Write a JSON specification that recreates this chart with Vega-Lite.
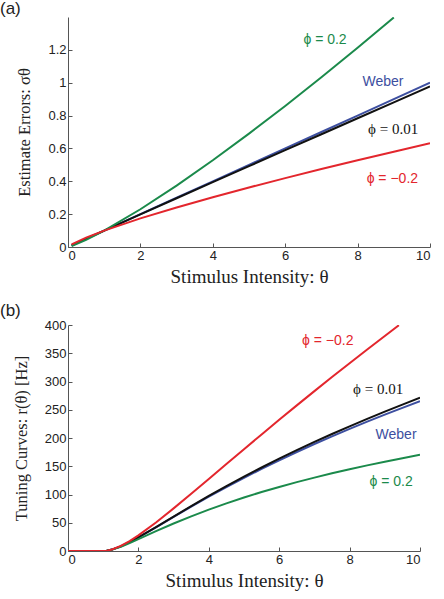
{
  "$schema": "https://vega.github.io/schema/vega-lite/v6.json",
  "background": "white",
  "padding": {"left": 0, "top": 0, "right": 5, "bottom": 5},
  "spacing": 16,
  "config": {
    "view": {"stroke": null},
    "axis": {
      "grid": false,
      "domainColor": "#555555",
      "tickColor": "#555555",
      "tickSize": -4,
      "labelFont": "Liberation Sans",
      "labelFontSize": 13,
      "labelColor": "#222222",
      "labelOverlap": false,
      "titleFont": "Liberation Serif",
      "titleFontWeight": "normal",
      "titleColor": "#222222"
    },
    "axisX": {"titleFontSize": 19},
    "axisY": {"titleFontSize": 16.5},
    "title": {"font": "Liberation Sans", "fontSize": 17, "fontWeight": "normal", "color": "#222222", "anchor": "start", "frame": "group"}
  },
  "datasets": {
    "errors": [
      {"theta": 0.1, "sigma": 0.01, "curve": "Weber"},
      {"theta": 0.5, "sigma": 0.05, "curve": "Weber"},
      {"theta": 1, "sigma": 0.1, "curve": "Weber"},
      {"theta": 2, "sigma": 0.2, "curve": "Weber"},
      {"theta": 3, "sigma": 0.3, "curve": "Weber"},
      {"theta": 4, "sigma": 0.4, "curve": "Weber"},
      {"theta": 5, "sigma": 0.5, "curve": "Weber"},
      {"theta": 6, "sigma": 0.6, "curve": "Weber"},
      {"theta": 7, "sigma": 0.7, "curve": "Weber"},
      {"theta": 8, "sigma": 0.8, "curve": "Weber"},
      {"theta": 9, "sigma": 0.9, "curve": "Weber"},
      {"theta": 10, "sigma": 1.0, "curve": "Weber"},
      {"theta": 0.1, "sigma": 0.0102, "curve": "p001"},
      {"theta": 0.5, "sigma": 0.0503, "curve": "p001"},
      {"theta": 1, "sigma": 0.1, "curve": "p001"},
      {"theta": 2, "sigma": 0.1986, "curve": "p001"},
      {"theta": 3, "sigma": 0.2967, "curve": "p001"},
      {"theta": 4, "sigma": 0.3945, "curve": "p001"},
      {"theta": 5, "sigma": 0.492, "curve": "p001"},
      {"theta": 6, "sigma": 0.5893, "curve": "p001"},
      {"theta": 7, "sigma": 0.6865, "curve": "p001"},
      {"theta": 8, "sigma": 0.7835, "curve": "p001"},
      {"theta": 9, "sigma": 0.8804, "curve": "p001"},
      {"theta": 10, "sigma": 0.9772, "curve": "p001"},
      {"theta": 0.1, "sigma": 0.0063, "curve": "p02"},
      {"theta": 0.5, "sigma": 0.0435, "curve": "p02"},
      {"theta": 1, "sigma": 0.1, "curve": "p02"},
      {"theta": 2, "sigma": 0.2297, "curve": "p02"},
      {"theta": 3, "sigma": 0.3737, "curve": "p02"},
      {"theta": 4, "sigma": 0.5278, "curve": "p02"},
      {"theta": 5, "sigma": 0.6898, "curve": "p02"},
      {"theta": 6, "sigma": 0.8586, "curve": "p02"},
      {"theta": 7, "sigma": 1.033, "curve": "p02"},
      {"theta": 8, "sigma": 1.213, "curve": "p02"},
      {"theta": 9, "sigma": 1.397, "curve": "p02"},
      {"theta": 0.1, "sigma": 0.0159, "curve": "pm02"},
      {"theta": 0.5, "sigma": 0.0574, "curve": "pm02"},
      {"theta": 1, "sigma": 0.1, "curve": "pm02"},
      {"theta": 2, "sigma": 0.1741, "curve": "pm02"},
      {"theta": 3, "sigma": 0.2408, "curve": "pm02"},
      {"theta": 4, "sigma": 0.3031, "curve": "pm02"},
      {"theta": 5, "sigma": 0.3624, "curve": "pm02"},
      {"theta": 6, "sigma": 0.4193, "curve": "pm02"},
      {"theta": 7, "sigma": 0.4743, "curve": "pm02"},
      {"theta": 8, "sigma": 0.5278, "curve": "pm02"},
      {"theta": 9, "sigma": 0.58, "curve": "pm02"},
      {"theta": 10, "sigma": 0.631, "curve": "pm02"}
    ],
    "tuning": [
      {"theta": 0, "rate": 0, "curve": "Weber"},
      {"theta": 1, "rate": 0, "curve": "Weber"},
      {"theta": 1.1, "rate": 0.45, "curve": "Weber"},
      {"theta": 1.25, "rate": 2.49, "curve": "Weber"},
      {"theta": 1.5, "rate": 8.22, "curve": "Weber"},
      {"theta": 1.75, "rate": 15.66, "curve": "Weber"},
      {"theta": 2, "rate": 24.02, "curve": "Weber"},
      {"theta": 2.5, "rate": 41.98, "curve": "Weber"},
      {"theta": 3, "rate": 60.35, "curve": "Weber"},
      {"theta": 3.5, "rate": 78.47, "curve": "Weber"},
      {"theta": 4, "rate": 96.09, "curve": "Weber"},
      {"theta": 4.5, "rate": 113.11, "curve": "Weber"},
      {"theta": 5, "rate": 129.51, "curve": "Weber"},
      {"theta": 5.5, "rate": 145.31, "curve": "Weber"},
      {"theta": 6, "rate": 160.52, "curve": "Weber"},
      {"theta": 6.5, "rate": 175.18, "curve": "Weber"},
      {"theta": 7, "rate": 189.33, "curve": "Weber"},
      {"theta": 7.5, "rate": 202.99, "curve": "Weber"},
      {"theta": 8, "rate": 216.2, "curve": "Weber"},
      {"theta": 8.5, "rate": 229.0, "curve": "Weber"},
      {"theta": 9, "rate": 241.39, "curve": "Weber"},
      {"theta": 9.5, "rate": 253.42, "curve": "Weber"},
      {"theta": 10, "rate": 265.1, "curve": "Weber"},
      {"theta": 0, "rate": 0, "curve": "p001"},
      {"theta": 1, "rate": 0, "curve": "p001"},
      {"theta": 1.1, "rate": 0.46, "curve": "p001"},
      {"theta": 1.25, "rate": 2.5, "curve": "p001"},
      {"theta": 1.5, "rate": 8.25, "curve": "p001"},
      {"theta": 1.75, "rate": 15.75, "curve": "p001"},
      {"theta": 2, "rate": 24.19, "curve": "p001"},
      {"theta": 2.5, "rate": 42.36, "curve": "p001"},
      {"theta": 3, "rate": 61.01, "curve": "p001"},
      {"theta": 3.5, "rate": 79.45, "curve": "p001"},
      {"theta": 4, "rate": 97.42, "curve": "p001"},
      {"theta": 4.5, "rate": 114.81, "curve": "p001"},
      {"theta": 5, "rate": 131.6, "curve": "p001"},
      {"theta": 5.5, "rate": 147.79, "curve": "p001"},
      {"theta": 6, "rate": 163.4, "curve": "p001"},
      {"theta": 6.5, "rate": 178.46, "curve": "p001"},
      {"theta": 7, "rate": 193.02, "curve": "p001"},
      {"theta": 7.5, "rate": 207.08, "curve": "p001"},
      {"theta": 8, "rate": 220.7, "curve": "p001"},
      {"theta": 8.5, "rate": 233.91, "curve": "p001"},
      {"theta": 9, "rate": 246.7, "curve": "p001"},
      {"theta": 9.5, "rate": 259.13, "curve": "p001"},
      {"theta": 10, "rate": 271.21, "curve": "p001"},
      {"theta": 0, "rate": 0, "curve": "p02"},
      {"theta": 1, "rate": 0, "curve": "p02"},
      {"theta": 1.1, "rate": 0.45, "curve": "p02"},
      {"theta": 1.25, "rate": 2.38, "curve": "p02"},
      {"theta": 1.5, "rate": 7.58, "curve": "p02"},
      {"theta": 1.75, "rate": 14.01, "curve": "p02"},
      {"theta": 2, "rate": 20.95, "curve": "p02"},
      {"theta": 2.5, "rate": 35.05, "curve": "p02"},
      {"theta": 3, "rate": 48.64, "curve": "p02"},
      {"theta": 3.5, "rate": 61.4, "curve": "p02"},
      {"theta": 4, "rate": 73.29, "curve": "p02"},
      {"theta": 4.5, "rate": 84.36, "curve": "p02"},
      {"theta": 5, "rate": 94.68, "curve": "p02"},
      {"theta": 5.5, "rate": 104.34, "curve": "p02"},
      {"theta": 6, "rate": 113.38, "curve": "p02"},
      {"theta": 6.5, "rate": 121.89, "curve": "p02"},
      {"theta": 7, "rate": 129.92, "curve": "p02"},
      {"theta": 7.5, "rate": 137.51, "curve": "p02"},
      {"theta": 8, "rate": 144.71, "curve": "p02"},
      {"theta": 8.5, "rate": 151.55, "curve": "p02"},
      {"theta": 9, "rate": 158.07, "curve": "p02"},
      {"theta": 9.5, "rate": 164.29, "curve": "p02"},
      {"theta": 10, "rate": 170.24, "curve": "p02"},
      {"theta": 0, "rate": 0, "curve": "pm02"},
      {"theta": 1, "rate": 0, "curve": "pm02"},
      {"theta": 1.1, "rate": 0.46, "curve": "pm02"},
      {"theta": 1.25, "rate": 2.6, "curve": "pm02"},
      {"theta": 1.5, "rate": 8.92, "curve": "pm02"},
      {"theta": 1.75, "rate": 17.53, "curve": "pm02"},
      {"theta": 2, "rate": 27.64, "curve": "pm02"},
      {"theta": 2.5, "rate": 50.56, "curve": "pm02"},
      {"theta": 3, "rate": 75.48, "curve": "pm02"},
      {"theta": 3.5, "rate": 101.34, "curve": "pm02"},
      {"theta": 4, "rate": 127.61, "curve": "pm02"},
      {"theta": 4.5, "rate": 153.97, "curve": "pm02"},
      {"theta": 5, "rate": 180.24, "curve": "pm02"},
      {"theta": 5.5, "rate": 206.36, "curve": "pm02"},
      {"theta": 6, "rate": 232.17, "curve": "pm02"},
      {"theta": 6.5, "rate": 257.71, "curve": "pm02"},
      {"theta": 7, "rate": 282.95, "curve": "pm02"},
      {"theta": 7.5, "rate": 307.86, "curve": "pm02"},
      {"theta": 8, "rate": 332.45, "curve": "pm02"},
      {"theta": 8.5, "rate": 356.71, "curve": "pm02"},
      {"theta": 9, "rate": 380.67, "curve": "pm02"},
      {"theta": 9.4, "rate": 399.6, "curve": "pm02"}
    ],
    "labelsA": [
      {"theta": 7.1, "value": 1.263, "text": "ϕ = 0.2", "curve": "p02", "serif": false},
      {"theta": 8.7, "value": 1.007, "text": "Weber", "curve": "Weber", "serif": false},
      {"theta": 8.98, "value": 0.72, "text": "ϕ = 0.01", "curve": "p001", "serif": true},
      {"theta": 8.96, "value": 0.416, "text": "ϕ = −0.2", "curve": "pm02", "serif": false}
    ],
    "labelsB": [
      {"theta": 7.38, "value": 372, "text": "ϕ = −0.2", "curve": "pm02", "serif": false},
      {"theta": 8.81, "value": 286, "text": "ϕ = 0.01", "curve": "p001", "serif": true},
      {"theta": 9.32, "value": 205, "text": "Weber", "curve": "Weber", "serif": false},
      {"theta": 9.18, "value": 122, "text": "ϕ = 0.2", "curve": "p02", "serif": false}
    ]
  },
  "vconcat": [
    {
      "title": {"text": "(a)", "dx": -68, "offset": -1},
      "width": 362,
      "height": 230,
      "encoding": {
        "x": {"field": "theta", "type": "quantitative", "scale": {"domain": [0, 10], "nice": false}, "axis": {"values": [0, 2, 4, 6, 8, 10], "title": "Stimulus Intensity: θ", "labelPadding": 6, "titlePadding": 5, "labelOverlap": false}},
        "color": {"field": "curve", "type": "nominal", "scale": {"domain": ["Weber", "p001", "p02", "pm02"], "range": ["#3d4fa0", "#111111", "#1b8a4b", "#e3262d"]}, "legend": null}
      },
      "layer": [
        {
          "data": {"name": "errors"},
          "mark": {"type": "line", "strokeWidth": 2, "clip": true},
          "encoding": {
            "y": {"field": "sigma", "type": "quantitative", "scale": {"domain": [0, 1.4], "nice": false}, "axis": {"values": [0, 0.2, 0.4, 0.6, 0.8, 1, 1.2], "labelExpr": "'' + datum.value", "title": "Estimate Errors: σθ", "labelPadding": 6, "titlePadding": 15, "labelOverlap": false}}
          }
        },
        {
          "data": {"name": "labelsA"},
          "transform": [{"filter": "!datum.serif"}],
          "mark": {"type": "text", "font": "Liberation Sans", "fontSize": 14},
          "encoding": {
            "y": {"field": "value", "type": "quantitative", "axis": {"values": [0, 0.2, 0.4, 0.6, 0.8, 1, 1.2], "labelExpr": "'' + datum.value", "title": "Estimate Errors: σθ", "labelPadding": 6, "titlePadding": 15, "labelOverlap": false}},
            "text": {"field": "text"}
          }
        },
        {
          "data": {"name": "labelsA"},
          "transform": [{"filter": "datum.serif"}],
          "mark": {"type": "text", "font": "Liberation Serif", "fontSize": 15},
          "encoding": {
            "y": {"field": "value", "type": "quantitative", "axis": {"values": [0, 0.2, 0.4, 0.6, 0.8, 1, 1.2], "labelExpr": "'' + datum.value", "title": "Estimate Errors: σθ", "labelPadding": 6, "titlePadding": 15, "labelOverlap": false}},
            "text": {"field": "text"}
          }
        }
      ]
    },
    {
      "title": {"text": "(b)", "dx": -68, "offset": -1},
      "width": 352,
      "height": 226,
      "encoding": {
        "x": {"field": "theta", "type": "quantitative", "scale": {"domain": [0, 10], "nice": false}, "axis": {"values": [0, 2, 4, 6, 8, 10], "title": "Stimulus Intensity: θ", "labelPadding": 6, "titlePadding": 5, "labelOverlap": false}},
        "color": {"field": "curve", "type": "nominal", "scale": {"domain": ["Weber", "p001", "p02", "pm02"], "range": ["#3d4fa0", "#111111", "#1b8a4b", "#e3262d"]}, "legend": null}
      },
      "layer": [
        {
          "data": {"name": "tuning"},
          "mark": {"type": "line", "strokeWidth": 2, "clip": true},
          "encoding": {
            "y": {"field": "rate", "type": "quantitative", "scale": {"domain": [0, 400], "nice": false}, "axis": {"values": [0, 50, 100, 150, 200, 250, 300, 350, 400], "title": "Tuning Curves: r(θ) [Hz]", "labelPadding": 6, "titlePadding": 15, "labelOverlap": false}}
          }
        },
        {
          "data": {"name": "labelsB"},
          "transform": [{"filter": "!datum.serif"}],
          "mark": {"type": "text", "font": "Liberation Sans", "fontSize": 14},
          "encoding": {
            "y": {"field": "value", "type": "quantitative", "axis": {"values": [0, 50, 100, 150, 200, 250, 300, 350, 400], "title": "Tuning Curves: r(θ) [Hz]", "labelPadding": 6, "titlePadding": 15, "labelOverlap": false}},
            "text": {"field": "text"}
          }
        },
        {
          "data": {"name": "labelsB"},
          "transform": [{"filter": "datum.serif"}],
          "mark": {"type": "text", "font": "Liberation Serif", "fontSize": 15},
          "encoding": {
            "y": {"field": "value", "type": "quantitative", "axis": {"values": [0, 50, 100, 150, 200, 250, 300, 350, 400], "title": "Tuning Curves: r(θ) [Hz]", "labelPadding": 6, "titlePadding": 15, "labelOverlap": false}},
            "text": {"field": "text"}
          }
        }
      ]
    }
  ]
}
